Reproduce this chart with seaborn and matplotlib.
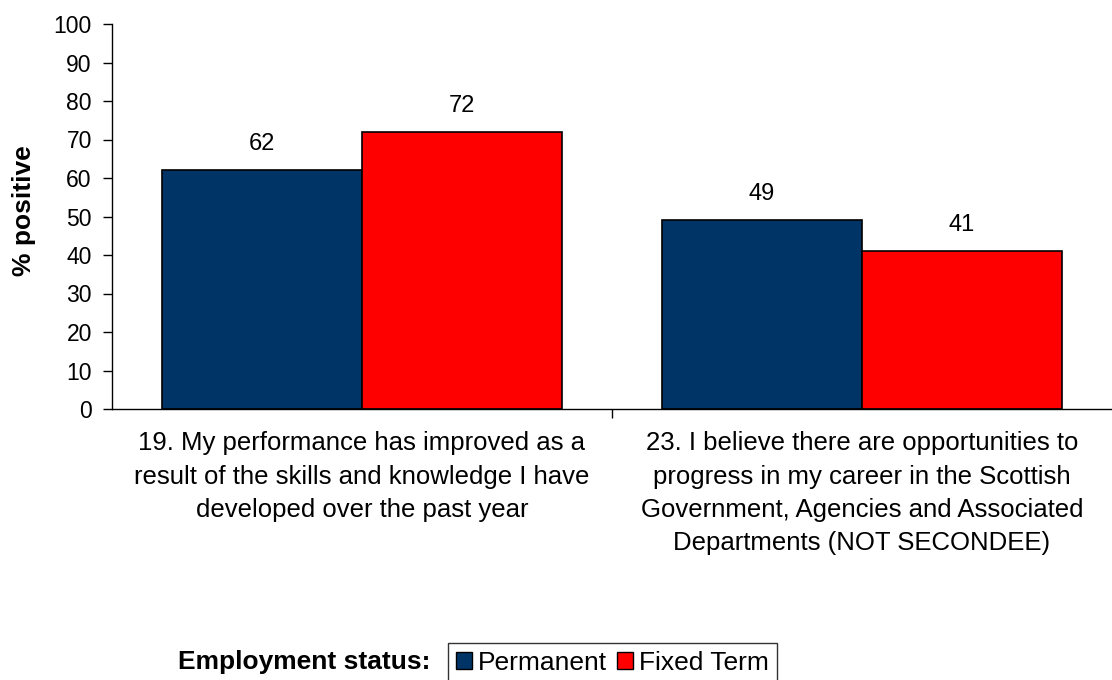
import matplotlib
matplotlib.use("Agg")
import matplotlib.pyplot as plt
import seaborn as sns
import pandas as pd
from matplotlib.patches import Patch

questions = [
    "19. My performance has improved as a\nresult of the skills and knowledge I have\ndeveloped over the past year",
    "23. I believe there are opportunities to\nprogress in my career in the Scottish\nGovernment, Agencies and Associated\nDepartments (NOT SECONDEE)",
]
statuses = ["Permanent", "Fixed Term"]
permanent = [62, 49]
fixed_term = [72, 41]
colors = ["#003366", "#FF0000"]

df = pd.DataFrame({
    "question": questions * 2,
    "status": [statuses[0]] * 2 + [statuses[1]] * 2,
    "value": permanent + fixed_term,
})

sns.set_theme(style="white")
plt.rcParams["font.family"] = ["Liberation Sans", "DejaVu Sans"]
plt.rcParams.update({"text.color": "black", "axes.labelcolor": "black",
                     "xtick.color": "black", "ytick.color": "black"})

fig = plt.figure(figsize=(11.12, 6.8), dpi=100)
ax = fig.add_axes([112 / 1112, 1 - 409 / 680, 1 - 112 / 1112, (409 - 24) / 680])

sns.barplot(data=df, x="question", y="value", hue="status", order=questions,
            hue_order=statuses, palette=colors, width=0.8, ax=ax,
            edgecolor="black", linewidth=1.2, legend=False, saturation=1)

for cont in ax.containers:
    ax.bar_label(cont, fmt="%d", padding=11, fontsize=17)

ax.set_ylim(0, 100)
ax.set_xlim(-0.5, 1.5)
ax.set_yticks(range(0, 101, 10))
ax.set_xlabel("")
ax.set_ylabel("% positive", fontsize=19, fontweight="bold")
ax.yaxis.set_label_coords(-0.076, 0.514)
ax.tick_params(axis="y", labelsize=16.5, length=6.5, width=1, direction="out", left=True, pad=8)
ax.tick_params(axis="x", which="major", labelsize=18.5, length=0, pad=16)
ax.set_xticks([0.5], minor=True)
ax.tick_params(axis="x", which="minor", length=6.5, width=1, bottom=True, direction="out")
for lbl in ax.get_xticklabels():
    lbl.set_linespacing(1.49)

for side in ("top", "right"):
    ax.spines[side].set_visible(False)
for side in ("left", "bottom"):
    ax.spines[side].set_color("black")
    ax.spines[side].set_linewidth(1)

handles = [Patch(facecolor=c, edgecolor="black", linewidth=1) for c in colors]
fig.text(430 / 1112, 1 - 662 / 680, "Employment status:", fontsize=19, fontweight="bold",
         ha="right", va="center")
leg = fig.legend(handles, statuses, loc="center left", bbox_to_anchor=(448 / 1112, 1 - 663 / 680),
                 ncol=2, frameon=True, fancybox=False, fontsize=19, handlelength=0.6,
                 handleheight=0.6, handletextpad=0.25, columnspacing=0.35, borderpad=0.3,
                 borderaxespad=0)
leg.get_frame().set_edgecolor("black")
leg.get_frame().set_linewidth(1)

fig.savefig("out.png", dpi=100, facecolor="white")
